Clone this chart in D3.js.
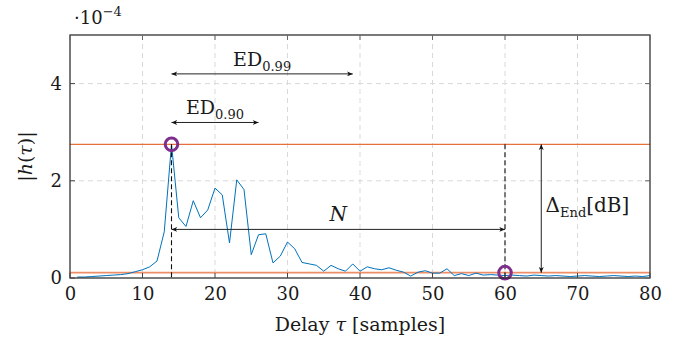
<!DOCTYPE html>
<html>
<head>
<meta charset="utf-8">
<script src="https://cdn.jsdelivr.net/npm/d3@7"></script>
<style>
  body { margin: 0; background: #fff; }
  svg text { font-family: 'DejaVu Serif', serif; fill: #1a1a1a; }
</style>
</head>
<body>
<div id="chart"></div>
<script>
// delay taps (samples) and |h(tau)| in units of 1e-4
const delays = d3.range(1, 81);
const magnitude = [
  0.02, 0.02, 0.03, 0.04, 0.05, 0.06, 0.07, 0.09, 0.13, 0.17,
  0.23, 0.35, 0.95, 2.75, 1.24, 1.06, 1.59, 1.24, 1.40, 1.85,
  1.71, 0.72, 2.02, 1.82, 0.48, 0.89, 0.91, 0.31, 0.45, 0.74,
  0.60, 0.32, 0.29, 0.26, 0.14, 0.26, 0.19, 0.14, 0.29, 0.14,
  0.23, 0.19, 0.17, 0.21, 0.16, 0.12, 0.04, 0.12, 0.15, 0.10,
  0.10, 0.19, 0.05, 0.09, 0.05, 0.10, 0.06, 0.07, 0.06, 0.05,
  0.06, 0.05, 0.04, 0.06, 0.05, 0.04, 0.05, 0.04, 0.03, 0.04,
  0.05, 0.04, 0.03, 0.04, 0.05, 0.04, 0.03, 0.04, 0.03, 0.05
];
const xTicks = [0, 10, 20, 30, 40, 50, 60, 70, 80];
const yTicks = [0, 2, 4];

// thresholds and markers
const peakLevel = 2.75, endLevel = 0.11;
const peakDelay = 14, endDelay = 60;
const ed99 = 39, ed90 = 26;

const FONT = 'DejaVu Serif, serif';
const width = 678, height = 341;
const margin = { top: 35, right: 28, bottom: 63, left: 70 };
const w = width - margin.left - margin.right;
const h = height - margin.top - margin.bottom;

const svg = d3.select('#chart').append('svg')
  .attr('width', width).attr('height', height)
  .attr('font-family', FONT);

const defs = svg.append('defs');
defs.append('marker').attr('id', 'arr')
  .attr('viewBox', '0 0 10 10').attr('refX', 9).attr('refY', 5)
  .attr('markerWidth', 7).attr('markerHeight', 7)
  .attr('orient', 'auto-start-reverse')
  .append('path').attr('d', 'M1,1.5 L9,5 L1,8.5 L3,5 Z').attr('fill', '#111');

const g = svg.append('g').attr('transform', `translate(${margin.left},${margin.top})`);

const x = d3.scaleLinear().domain([0, 80]).range([0, w]);
const y = d3.scaleLinear().domain([0, 5]).range([h, 0]);

// grid
g.append('g').selectAll('line').data(xTicks.slice(1, -1)).enter().append('line')
  .attr('x1', d => x(d)).attr('x2', d => x(d)).attr('y1', 0).attr('y2', h)
  .attr('stroke', '#d9d9d9').attr('stroke-dasharray', '5,4');
g.append('g').selectAll('line').data(yTicks.slice(1)).enter().append('line')
  .attr('x1', 0).attr('x2', w).attr('y1', d => y(d)).attr('y2', d => y(d))
  .attr('stroke', '#d9d9d9').attr('stroke-dasharray', '5,4');

// threshold lines
g.append('line').attr('x1', 0).attr('x2', w)
  .attr('y1', y(peakLevel)).attr('y2', y(peakLevel))
  .attr('stroke', '#E8703A').attr('stroke-width', 1.3);
g.append('line').attr('x1', 0).attr('x2', w)
  .attr('y1', y(endLevel)).attr('y2', y(endLevel))
  .attr('stroke', '#EE8E66').attr('stroke-width', 1.6);

// impulse response
const line = d3.line().x((d, i) => x(delays[i])).y(d => y(d));
g.append('path').datum(magnitude).attr('d', line)
  .attr('fill', 'none').attr('stroke', '#0072BD').attr('stroke-width', 1);

// dashed verticals
[[peakDelay, peakLevel], [endDelay, peakLevel]].forEach(([d, v]) => {
  g.append('line').attr('x1', x(d)).attr('x2', x(d))
    .attr('y1', y(v)).attr('y2', h)
    .attr('stroke', '#111').attr('stroke-width', 1.1).attr('stroke-dasharray', '5,3');
});

// arrows
function arrow(x1, y1, x2, y2) {
  g.append('line').attr('x1', x1).attr('y1', y1).attr('x2', x2).attr('y2', y2)
    .attr('stroke', '#222').attr('stroke-width', 1)
    .attr('marker-end', 'url(#arr)').attr('marker-start', 'url(#arr)');
}
arrow(x(peakDelay), y(4.2), x(ed99), y(4.2));
arrow(x(peakDelay), y(3.2), x(ed90), y(3.2));
arrow(x(peakDelay), y(1.0), x(endDelay), y(1.0));
arrow(x(65), y(peakLevel), x(65), y(endLevel));

// labels in plot
function sublabel(px, py, main, sub, anchor, size) {
  const t = g.append('text').attr('x', px).attr('y', py)
    .attr('font-size', size || 19).attr('text-anchor', anchor || 'middle');
  t.append('tspan').text(main);
  t.append('tspan').attr('dy', 5).attr('font-size', 13).text(sub);
  return t;
}
sublabel(x(26.5), y(4.2) - 8, 'ED', '0.99');
sublabel(x(20), y(3.2) - 8, 'ED', '0.90');
const dl = sublabel(x(65.6), 212 - margin.top, 'Δ', 'End', 'start', 20);
dl.append('tspan').attr('dy', -5).text('[dB]');
g.append('text').attr('x', x(37)).attr('y', y(1.0) - 8)
  .attr('text-anchor', 'middle').attr('font-size', 20).attr('font-style', 'italic').text('N');

// markers
[[peakDelay, peakLevel], [endDelay, endLevel]].forEach(([d, v]) => {
  g.append('circle').attr('cx', x(d)).attr('cy', y(v)).attr('r', 6.3)
    .attr('fill', 'none').attr('stroke', '#7E2F8E').attr('stroke-width', 3);
});

// frame and ticks
g.append('rect').attr('width', w).attr('height', h)
  .attr('fill', 'none').attr('stroke', '#222').attr('stroke-width', 1.2);
const tl = 5;
xTicks.forEach(t => {
  g.append('line').attr('x1', x(t)).attr('x2', x(t)).attr('y1', h).attr('y2', h - tl).attr('stroke', '#444');
  g.append('line').attr('x1', x(t)).attr('x2', x(t)).attr('y1', 0).attr('y2', tl).attr('stroke', '#666');
});
yTicks.forEach(t => {
  g.append('line').attr('x1', 0).attr('x2', tl).attr('y1', y(t)).attr('y2', y(t)).attr('stroke', '#444');
  g.append('line').attr('x1', w).attr('x2', w - tl).attr('y1', y(t)).attr('y2', y(t)).attr('stroke', '#666');
});

// axis tick labels
g.append('g').attr('transform', `translate(0,${h})`)
  .call(d3.axisBottom(x).tickValues(xTicks).tickFormat(d3.format('d')).tickSize(0).tickPadding(9))
  .call(s => s.select('.domain').remove())
  .call(s => s.attr('font-family', FONT).attr('font-size', 18))
  .selectAll('text').attr('fill', '#1a1a1a');
g.append('g')
  .call(d3.axisLeft(y).tickValues(yTicks).tickFormat(d3.format('d')).tickSize(0).tickPadding(8))
  .call(s => s.select('.domain').remove())
  .call(s => s.attr('font-family', FONT).attr('font-size', 18))
  .selectAll('text').attr('fill', '#1a1a1a');

// exponent
const ex = svg.append('text').attr('x', margin.left + 4).attr('y', 24).attr('font-size', 18);
ex.append('tspan').text('·10');
ex.append('tspan').attr('dy', -8).attr('font-size', 13).text('−4');

// axis titles
const xl = svg.append('text').attr('x', margin.left + w / 2).attr('y', 331)
  .attr('text-anchor', 'middle').attr('font-size', 19);
xl.append('tspan').text('Delay ');
xl.append('tspan').attr('font-style', 'italic').text('τ');
xl.append('tspan').text(' [samples]');

const yl = svg.append('text').attr('transform', `translate(32,${margin.top + h / 2}) rotate(-90)`)
  .attr('text-anchor', 'middle').attr('font-size', 19);
yl.append('tspan').text('|');
yl.append('tspan').attr('font-style', 'italic').text('h');
yl.append('tspan').text('(');
yl.append('tspan').attr('font-style', 'italic').text('τ');
yl.append('tspan').text(')|');
</script>
</body>
</html>
